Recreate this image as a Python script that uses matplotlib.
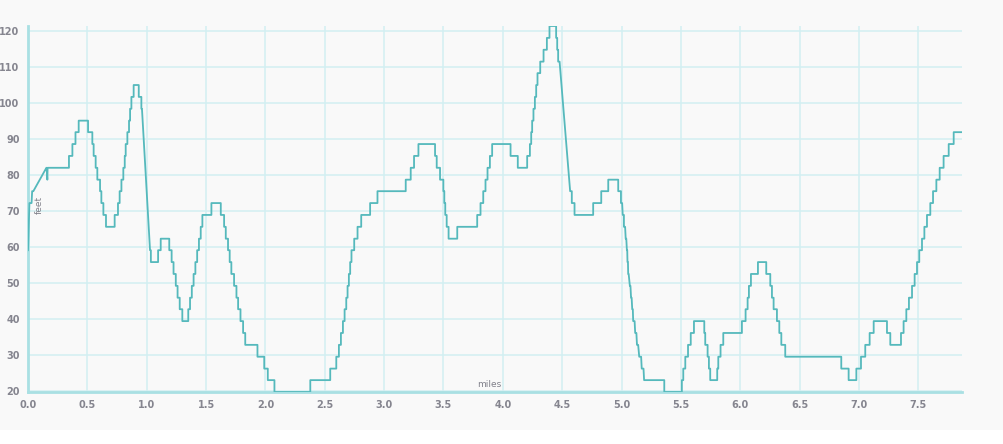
import matplotlib
matplotlib.use("Agg")
import matplotlib.pyplot as plt
from matplotlib.patches import Rectangle

# Elevation profile: each level segment (start mile, end mile, feet)
seg_start = [0.000, 0.012, 0.035, 0.155, 0.163, 0.165, 0.345, 0.374, 0.400, 0.427,
             0.506, 0.542, 0.553, 0.570, 0.584, 0.607, 0.618, 0.635, 0.657,
             0.730, 0.758, 0.772, 0.787, 0.803, 0.815, 0.823, 0.837, 0.851, 0.860, 0.871, 0.890,
             0.933, 0.955, 1.028, 1.035, 1.096, 1.118, 1.190, 1.210, 1.226, 1.245, 1.260, 1.278,
             1.300, 1.350, 1.365, 1.380, 1.395, 1.410, 1.425, 1.440, 1.455, 1.469, 1.545,
             1.624, 1.652, 1.666, 1.685, 1.699, 1.713, 1.736, 1.756, 1.770, 1.790, 1.812,
             1.830, 1.933, 1.990, 2.020, 2.076, 2.378, 2.546, 2.597, 2.619, 2.636, 2.653,
             2.667, 2.681, 2.692, 2.703, 2.714, 2.725, 2.748, 2.776, 2.807, 2.882, 2.944,
             3.182, 3.224, 3.252, 3.289, 3.429, 3.443, 3.471, 3.499, 3.507, 3.515, 3.527,
             3.543, 3.616, 3.784, 3.812, 3.835, 3.854, 3.871, 3.891, 3.910, 4.065, 4.126,
             4.205, 4.228, 4.239, 4.247, 4.258, 4.270, 4.281, 4.292, 4.315, 4.343, 4.371,
             4.393, 4.449, 4.458, 4.466, 4.567, 4.581, 4.604, 4.761, 4.829, 4.888, 4.972,
             4.995, 5.010, 5.020, 5.035, 5.045, 5.050, 5.056, 5.070, 5.080, 5.090, 5.098,
             5.115, 5.130, 5.149, 5.170, 5.190, 5.360, 5.508, 5.520, 5.537, 5.560, 5.583,
             5.610, 5.697, 5.705, 5.725, 5.736, 5.747, 5.806, 5.815, 5.834, 5.857, 6.014,
             6.045, 6.062, 6.073, 6.090, 6.149, 6.219, 6.253, 6.267, 6.281, 6.309, 6.329,
             6.346, 6.379, 6.851, 6.913, 6.978, 7.017, 7.053, 7.090, 7.124, 7.236, 7.264,
             7.354, 7.376, 7.399, 7.421, 7.447, 7.469, 7.489, 7.508, 7.531, 7.551, 7.573,
             7.601, 7.624, 7.652, 7.680, 7.713, 7.756, 7.798]
seg_end = [0.000, 0.030, 0.045, 0.157, 0.163, 0.345, 0.374, 0.400, 0.427, 0.506,
           0.542, 0.553, 0.570, 0.584, 0.607, 0.618, 0.635, 0.657, 0.730,
           0.758, 0.772, 0.787, 0.803, 0.815, 0.823, 0.837, 0.851, 0.860, 0.871, 0.890, 0.933,
           0.955, 0.960, 1.035, 1.096, 1.118, 1.190, 1.210, 1.226, 1.245, 1.260, 1.278, 1.300,
           1.350, 1.365, 1.380, 1.395, 1.410, 1.425, 1.440, 1.455, 1.469, 1.545, 1.624,
           1.652, 1.666, 1.685, 1.699, 1.713, 1.736, 1.756, 1.770, 1.790, 1.812, 1.830,
           1.933, 1.990, 2.020, 2.076, 2.378, 2.546, 2.597, 2.619, 2.636, 2.653, 2.667,
           2.681, 2.692, 2.703, 2.714, 2.725, 2.748, 2.776, 2.807, 2.882, 2.944, 3.182,
           3.224, 3.252, 3.289, 3.429, 3.443, 3.471, 3.499, 3.507, 3.515, 3.527, 3.543,
           3.616, 3.784, 3.812, 3.835, 3.854, 3.871, 3.891, 3.910, 4.065, 4.126, 4.205,
           4.228, 4.239, 4.247, 4.258, 4.270, 4.281, 4.292, 4.315, 4.343, 4.371, 4.393,
           4.449, 4.458, 4.466, 4.478, 4.581, 4.604, 4.761, 4.829, 4.888, 4.972, 4.995,
           5.005, 5.020, 5.030, 5.040, 5.048, 5.054, 5.060, 5.075, 5.085, 5.095, 5.110,
           5.125, 5.140, 5.165, 5.185, 5.360, 5.508, 5.520, 5.537, 5.560, 5.583, 5.610,
           5.697, 5.705, 5.725, 5.736, 5.747, 5.806, 5.815, 5.834, 5.857, 6.014, 6.045,
           6.062, 6.073, 6.090, 6.149, 6.219, 6.253, 6.267, 6.281, 6.309, 6.329, 6.346,
           6.379, 6.851, 6.913, 6.978, 7.017, 7.053, 7.090, 7.124, 7.236, 7.264, 7.354,
           7.376, 7.399, 7.421, 7.447, 7.469, 7.489, 7.508, 7.531, 7.551, 7.573, 7.601,
           7.624, 7.652, 7.680, 7.713, 7.756, 7.798, 7.868]
seg_feet = [59.1, 72.2, 75.5, 82.0, 78.7, 82.0, 85.3, 88.6, 91.9, 95.1,
            91.9, 88.6, 85.3, 82.0, 78.7, 75.5, 72.2, 68.9, 65.6,
            68.9, 72.2, 75.5, 78.7, 82.0, 85.3, 88.6, 91.9, 95.1, 98.4, 101.7, 105.0,
            101.7, 98.4, 59.1, 55.8, 59.1, 62.3, 59.1, 55.8, 52.5, 49.2, 45.9, 42.7,
            39.4, 42.7, 45.9, 49.2, 52.5, 55.8, 59.1, 62.3, 65.6, 68.9, 72.2,
            68.9, 65.6, 62.3, 59.1, 55.8, 52.5, 49.2, 45.9, 42.7, 39.4, 36.1,
            32.8, 29.5, 26.2, 23.0, 19.7, 23.0, 26.2, 29.5, 32.8, 36.1, 39.4,
            42.7, 45.9, 49.2, 52.5, 55.8, 59.1, 62.3, 65.6, 68.9, 72.2, 75.5,
            78.7, 82.0, 85.3, 88.6, 85.3, 82.0, 78.7, 75.5, 72.2, 68.9, 65.6,
            62.3, 65.6, 68.9, 72.2, 75.5, 78.7, 82.0, 85.3, 88.6, 85.3, 82.0,
            85.3, 88.6, 91.9, 95.1, 98.4, 101.7, 105.0, 108.3, 111.5, 114.8, 118.1,
            121.4, 118.1, 114.8, 111.5, 75.5, 72.2, 68.9, 72.2, 75.5, 78.7, 75.5,
            72.2, 68.9, 65.6, 62.3, 59.1, 55.8, 52.5, 49.2, 45.9, 42.7, 39.4,
            36.1, 32.8, 29.5, 26.2, 23.0, 19.7, 23.0, 26.2, 29.5, 32.8, 36.1,
            39.4, 36.1, 32.8, 29.5, 26.2, 23.0, 26.2, 29.5, 32.8, 36.1, 39.4,
            42.7, 45.9, 49.2, 52.5, 55.8, 52.5, 49.2, 45.9, 42.7, 39.4, 36.1,
            32.8, 29.5, 26.2, 23.0, 26.2, 29.5, 32.8, 36.1, 39.4, 36.1, 32.8,
            36.1, 39.4, 42.7, 45.9, 49.2, 52.5, 55.8, 59.1, 62.3, 65.6, 68.9,
            72.2, 75.5, 78.7, 82.0, 85.3, 88.6, 91.9]

x_ticks = [0.0, 0.5, 1.0, 1.5, 2.0, 2.5, 3.0, 3.5, 4.0, 4.5, 5.0, 5.5, 6.0, 6.5, 7.0, 7.5]
y_ticks = [20, 30, 40, 50, 60, 70, 80, 90, 100, 110, 120]

# build polyline vertices from the level segments
xs, ys = [], []
for s, e, f in zip(seg_start, seg_end, seg_feet):
    xs += [s, e]
    ys += [f, f]

BG = "#f9f9f9"
fig = plt.figure(figsize=(10.04, 4.44), dpi=100, facecolor=BG)
fig.patches.append(Rectangle((0, 0), 1, 14 / 444, transform=fig.transFigure,
                             facecolor="white", edgecolor="none", zorder=0))
ax = fig.add_axes([28 / 1004, 1 - 392 / 444, (962 - 28) / 1004, (392 - 26) / 444])
ax.set_facecolor(BG)

ax.plot(xs, ys, color="#55b9bc", lw=1.3, zorder=3)

ax.set_xlim(0, 7.868)
ax.set_ylim(19.7, 121.4)
ax.set_xticks(x_ticks)
ax.set_xticklabels([f"{t:.1f}" for t in x_ticks])
ax.set_yticks(y_ticks)
ax.grid(True, color="#d3eff2", lw=1.1, zorder=0)
ax.set_axisbelow(True)
for side in ("top", "right"):
    ax.spines[side].set_visible(False)
for side in ("left", "bottom"):
    ax.spines[side].set_color("#a9e0e3")
    ax.spines[side].set_linewidth(2)
ax.tick_params(length=0, labelsize=7, labelcolor="#85858f", pad=6)
for lab in ax.get_xticklabels() + ax.get_yticklabels():
    lab.set_fontweight("bold")

ax.text(0.012, 0.51, "feet", transform=ax.transAxes, rotation=90, fontsize=6.5,
        color="#80808a", ha="center", va="center")
ax.text(0.494, 0.02, "miles", transform=ax.transAxes, fontsize=6.5,
        color="#80808a", ha="center", va="center")

fig.savefig("out.png", dpi=100, facecolor=BG)
